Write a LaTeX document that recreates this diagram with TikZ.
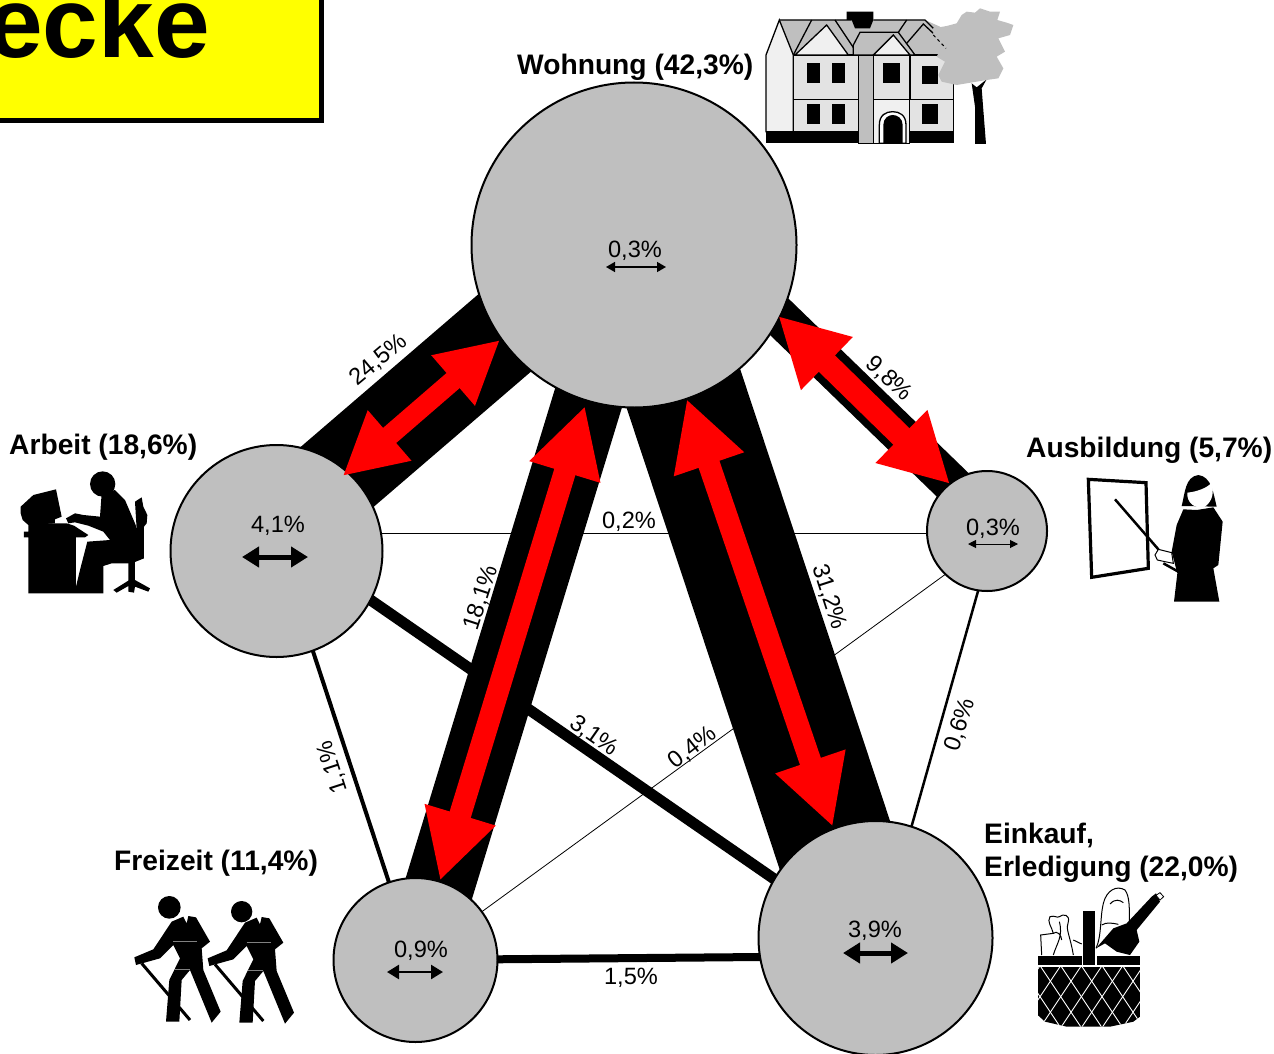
\documentclass[tikz,border=0pt]{standalone}
\usepackage{fontspec}
\setmainfont{Liberation Sans}
\usetikzlibrary{arrows.meta,backgrounds}
\definecolor{circgray}{HTML}{BFBFBF}
\definecolor{walllight}{HTML}{E3E3E3}
\definecolor{gablelight}{HTML}{F0F0F0}
\definecolor{titleyellow}{HTML}{FFFF00}
\definecolor{purered}{HTML}{FF0000}
\newcommand{\hikerbody}{(155,125) -- (190,110) -- (200,130) -- (205,108) -- (228,112) -- (270,185) -- (245,205) -- (250,270) -- (302,395) -- (275,428) -- (210,270) -- (185,300) -- (178,425) -- (138,425) -- (148,300) -- (180,235) -- (160,195) -- (120,235) -- (48,255) -- (43,232) -- (100,208) -- cycle}
\tikzset{
  place/.style={circle,draw=black,fill=circgray,line width=2pt,inner sep=0pt},
  pct/.style={font=\fontsize{23.6}{28}\selectfont,inner sep=0pt},
  bigtxt/.style={font=\fontsize{28.2}{33}\selectfont\bfseries,inner sep=0pt,anchor=base west,align=left},
  band/.style={line width=#1,black},
  redarrow/.style n args={3}{draw=purered,line width=#1,{Triangle[length=#2,width=#3,fill=purered]}-{Triangle[length=#2,width=#3,fill=purered]}},
  selfarrow/.style n args={3}{line width=#1,{Triangle[length=#2,width=#3]}-{Triangle[length=#2,width=#3]}},
  hline/.style={draw=black,line width=1.3pt}
}
\begin{document}
\begin{tikzpicture}[x=1pt,y=-1pt]
\useasboundingbox (0,0) rectangle (1274,1054);
\clip (0,0) rectangle (1274,1054);
% title box
\draw[black,fill=titleyellow,line width=5pt] (-20,-20) rectangle (321.5,120.5);
\node[inner sep=0pt,anchor=base east,font=\fontsize{100}{110}\selectfont\bfseries] (title) at (210,58) {ecke};
% places
\node[place,minimum size=325pt] (wohn) at (634,245) {};
\node[place,minimum size=212pt] (arbeit) at (276.5,551) {};
\node[place,minimum size=120pt] (ausb) at (987,531) {};
\node[place,minimum size=164pt] (frei) at (415.5,960) {};
\node[place,minimum size=234pt] (eink) at (875.5,938) {};
% connectors
\coordinate (wa1) at (600,251); \coordinate (wa2) at (280,526);
\coordinate (wf1) at (618.4,300); \coordinate (wf2) at (417,960);
\coordinate (we1) at (654,300); \coordinate (we2) at (863,930);
\coordinate (wb1) at (700,240); \coordinate (wb2) at (990,521);
\begin{scope}[on background layer]
\draw[band=93pt] (wa1) -- (wa2);
\draw[band=69.5pt] (wf1) -- (wf2);
\draw[band=120pt] (we1) -- (we2);
\draw[band=39pt] (wb1) -- (wb2);
\draw[band=11pt] ([yshift=16pt]arbeit.center) -- ([yshift=-11pt]eink.center);
\draw[band=8pt] (frei.center) -- ([yshift=-18pt]eink.center);
\draw[band=4pt] ([xshift=3.5pt]arbeit.center) -- ([xshift=-1pt]frei.center);
\draw[band=2.5pt] ([xshift=8pt]ausb.center) -- ([xshift=4.5pt]eink.center);
\draw[band=0.8pt] (frei.center) -- ([yshift=-13pt]ausb.center);
\draw[band=0.8pt] ([yshift=-2pt]arbeit.center |- ausb.center) -- ([yshift=-2pt]ausb.center);
\end{scope}
% red double arrows
\coordinate (ra1) at (500,340); \coordinate (ra2) at (342.7,476);
\coordinate (rf1) at (585,406); \coordinate (rf2) at (440,880.7);
\coordinate (re1) at (686.7,399); \coordinate (re2) at (832.7,826.7);
\coordinate (rb1) at (778.3,316); \coordinate (rb2) at (950,484);
\draw[redarrow={20pt}{62pt}{62pt}] (ra1) -- (ra2);
\draw[redarrow={22pt}{69pt}{69pt}] (rf1) -- (rf2);
\draw[redarrow={22pt}{69pt}{69pt}] (re1) -- (re2);
\draw[redarrow={23pt}{68pt}{69pt}] (rb1) -- (rb2);
% arrows in places
\coordinate (s1a) at (606,267); \coordinate (s1b) at (666,267);
\coordinate (s2a) at (242,557); \coordinate (s2b) at (308,557);
\coordinate (s3a) at (968,544); \coordinate (s3b) at (1018,544);
\coordinate (s4a) at (387,972); \coordinate (s4b) at (443,972);
\coordinate (s5a) at (843,953); \coordinate (s5b) at (908,953);
\draw[selfarrow={1.5pt}{9pt}{10pt}] (s1a) -- (s1b);
\draw[selfarrow={5pt}{17pt}{20pt}] (s2a) -- (s2b);
\draw[selfarrow={1pt}{8pt}{8pt}] (s3a) -- (s3b);
\draw[selfarrow={2.5pt}{12pt}{14pt}] (s4a) -- (s4b);
\draw[selfarrow={5pt}{17pt}{20pt}] (s5a) -- (s5b);
% percent inside
\node[pct] (p1) at (635,251) {0,3\%};
\node[pct] (p2) at (278,526) {4,1\%};
\node[pct] (p3) at (993,529) {0,3\%};
\node[pct] (p4) at (421,951) {0,9\%};
\node[pct] (p5) at (875,931) {3,9\%};
% edge labels
\node[pct,rotate=40] (l1) at (379,360) {24,5\%};
\node[pct,rotate=-43] (l2) at (889,379) {9,8\%};
\node[pct,rotate=72] (l3) at (481,598) {18,1\%};
\node[pct,rotate=-72] (l4) at (829,597) {31,2\%};
\node[pct,rotate=-35] (l5) at (594,736) {3,1\%};
\node[pct,rotate=38] (l6) at (693,748) {0,4\%};
\node[pct,rotate=108] (l7) at (333,767) {1,1\%};
\node[pct,rotate=72] (l8) at (960,725) {0,6\%};
\node[pct] (l9) at (631,978) {1,5\%};
\node[pct] (l10) at (629,522) {0,2\%};
% titles
\node[bigtxt] (t1) at (517,75) {Wohnung (42,3\%)};
\node[bigtxt] (t2) at (9,454) {Arbeit (18,6\%)};
\node[bigtxt] (t3) at (1026,457) {Ausbildung (5,7\%)};
\node[bigtxt] (t4) at (114,870) {Freizeit (11,4\%)};
\node[bigtxt] (t5) at (984,876) {Einkauf,\\Erledigung (22,0\%)};
% house
\begin{scope}[shift={(760,0)},scale=1/3]
\fill[circgray] (58,60) -- (495,60) -- (540,80) -- (570,165) -- (100,165) -- cycle;
\fill[black] (260,35) -- (340,35) -- (340,60) -- (330,85) -- (285,85) -- (275,60) -- (260,60) -- cycle;
\draw[hline] (58,60) -- (275,60) (340,60) -- (495,60) -- (520,85) (100,165) -- (530,165);
\filldraw[fill=gablelight,hline] (18,165) -- (58,60) -- (100,165) -- (100,395) -- (18,395) -- cycle;
\filldraw[fill=walllight,hline] (100,165) rectangle (580,395);
\filldraw[fill=gablelight,hline] (340,298) rectangle (448,430);
\filldraw[fill=circgray,hline] (295,165) rectangle (340,430);
\draw[hline] (100,298) -- (295,298) (448,298) -- (580,298) (450,165) -- (450,298);
\draw[hline] (100,165) -- (155,60) (225,60) -- (295,165);
\filldraw[fill=gablelight,hline] (105,165) -- (200,75) -- (265,165) -- cycle;
\filldraw[fill=circgray,hline] (280,135) -- (300,97) -- (415,97) -- (465,165) -- (280,165) -- cycle;
\filldraw[fill=gablelight,hline] (340,165) -- (400,105) -- (450,165) -- cycle;
\draw[hline] (415,97) -- (440,60) (440,130) -- (490,72) -- (520,100);
\foreach \a/\b/\c/\d in {140/190/180/250,216/190/255/250,368/190/420/250,487/197/535/252,140/313/180/373,216/313/255/373,485/313/535/373}
  \fill[black] (\a,\b) rectangle (\c,\d);
\fill[black] (18,395) rectangle (295,430);
\fill[black] (448,395) rectangle (582,430);
\filldraw[fill=white,hline] (358,430) -- (358,375) .. controls (358,345) and (378,335) .. (398,335) .. controls (418,335) and (438,345) .. (438,375) -- (438,430) -- cycle;
\fill[black] (370,430) -- (370,375) .. controls (370,355) and (385,345) .. (398,345) .. controls (412,345) and (428,355) .. (428,375) -- (428,430) -- cycle;
% tree
\fill[black] (635,250) -- (650,262) -- (680,238) -- (665,265) -- (670,330) -- (678,432) -- (645,432) -- (645,320) -- cycle;
\fill[circgray] (520,85) -- (560,78) -- (590,70) -- (605,45) -- (620,35) -- (645,38) -- (660,25) -- (690,35) -- (720,35) -- (712,60) -- (740,68) -- (760,75) -- (750,105) -- (715,115) -- (735,155) -- (710,170) -- (730,205) -- (715,235) -- (680,240) -- (650,245) -- (620,250) -- (590,255) -- (545,245) -- (535,225) -- (555,185) -- (530,170) -- (540,150) -- (520,120) -- cycle;
\draw[black,line width=1pt,dashed] (520,105) -- (558,145);
\end{scope}
% worker
\begin{scope}[shift={(0,460)},scale=1/3]
\fill[black] (62,140) -- (100,105) -- (168,88) -- (185,170) -- (165,178) -- (165,190) -- (85,195) -- (68,180) -- (62,160) -- cycle;
\fill[black] (308,72) ellipse[x radius=38,y radius=38];
\fill[black] (72,215) -- (85,215) -- (85,190) -- (200,190) -- (222,197) -- (265,225) -- (255,232) -- (228,232) -- (228,380) -- (240,330) -- (262,245) -- (330,240) -- (310,215) -- (265,197) -- (225,187) -- (205,190) -- (198,175) -- (225,160) -- (250,165) -- (300,170) -- (305,100) -- (345,90) -- (375,120) -- (405,190) -- (432,265) -- (432,295) -- (395,310) -- (335,310) -- (310,318) -- (310,400) -- (85,400) -- (85,232) -- (72,232) -- cycle;
\fill[black] (405,125) -- (425,112) -- (430,140) -- (442,165) -- (440,190) -- (432,200) -- (432,295) -- (415,290) -- cycle;
\fill[black] (385,305) -- (405,305) -- (405,360) -- (450,385) -- (445,395) -- (405,380) -- (402,398) -- (385,395) -- (385,378) -- (350,398) -- (340,390) -- (385,362) -- cycle;
\end{scope}
% teacher
\begin{scope}[shift={(1070,460)},scale=1/3]
\draw[black,line width=3.2pt] (55,58) -- (228,68) -- (235,325) -- (65,352) -- cycle;
\draw[black,line width=2.5pt] (135,118) -- (265,268);
\fill[black] (335,138) .. controls (345,100) and (345,50) .. (385,45) .. controls (425,50) and (430,100) .. (440,140) -- cycle;
\fill[white] (352,98) .. controls (380,95) and (410,85) .. (425,68) .. controls (432,95) and (430,125) .. (400,143) .. controls (375,145) and (350,130) .. (352,98) -- cycle;
\fill[black] (340,148) -- (380,150) -- (430,142) -- (458,185) -- (445,315) -- (430,325) -- (448,425) -- (312,425) -- (322,340) -- (305,275) -- (320,195) -- cycle;
\filldraw[fill=white,draw=black,line width=1pt] (255,285) -- (265,268) -- (305,278) -- (310,310) -- (285,305) -- (262,300) -- cycle;
\draw[black,line width=2.5pt] (280,310) -- (325,335);
\end{scope}
% hikers
\begin{scope}[shift={(120,880)},scale=1/3]
\fill[black] (148,82) circle[radius=34];
\fill[black] \hikerbody;
\draw[black,line width=3pt] (65,250) -- (210,420);
\draw[gray,line width=0.6pt] (160,185) -- (232,185) (165,268) -- (210,268);
\fill[black] (365,95) circle[radius=32];
\begin{scope}[shift={(220,3)}]
\fill[black] \hikerbody;
\draw[black,line width=3pt] (65,250) -- (210,420);
\draw[gray,line width=0.6pt] (160,185) -- (232,185) (165,268) -- (210,268);
\end{scope}
\end{scope}
% basket
\begin{scope}[shift={(1020,880)},scale=1/3]
\draw[black,line width=1pt] (228,205) .. controls (245,170) and (240,110) .. (250,70) .. controls (260,30) and (290,15) .. (315,30) .. controls (330,50) and (328,90) .. (328,125);
\draw[black,line width=1pt] (270,72) .. controls (285,55) and (300,60) .. (310,68);
\draw[black,line width=1pt] (245,135) .. controls (260,125) and (280,130) .. (295,133);
\draw[black,line width=1pt] (65,225) -- (62,165) -- (100,160) .. controls (95,140) and (80,125) .. (90,110) .. controls (105,105) and (110,115) .. (118,110) .. controls (130,100) and (150,105) .. (145,125) .. controls (135,145) and (150,165) .. (160,225);
\draw[black,line width=1pt] (100,225) .. controls (110,190) and (130,170) .. (118,125) (100,160) .. controls (110,150) and (125,165) .. (125,180) (160,180) -- (185,192);
\fill[black] (228,205) -- (280,145) -- (320,130) -- (395,50) -- (408,40) -- (420,65) -- (350,150) -- (358,185) -- (330,225) -- (290,215) -- (255,190) -- cycle;
\draw[black,fill=white,line width=0.8pt] (408,46) -- (420,38) -- (431,50) -- (420,60) -- cycle;
\fill[black] (53,228) rectangle (187,255);
\fill[black] (230,228) rectangle (360,255);
\fill[black] (190,92) rectangle (226,255);
\begin{scope}
\clip (53,260) -- (360,260) -- (360,410) -- (340,425) -- (270,440) -- (140,440) -- (75,425) -- (53,405) -- cycle;
\fill[black] (53,260) rectangle (360,440);
\foreach \i in {-5,...,7} {
  \draw[white,line width=0.9pt] (\i*62,260) -- (\i*62+120,440);
  \draw[white,line width=0.9pt] (\i*62+120,260) -- (\i*62,440);
}
\end{scope}
\end{scope}
\end{tikzpicture}
\end{document}
